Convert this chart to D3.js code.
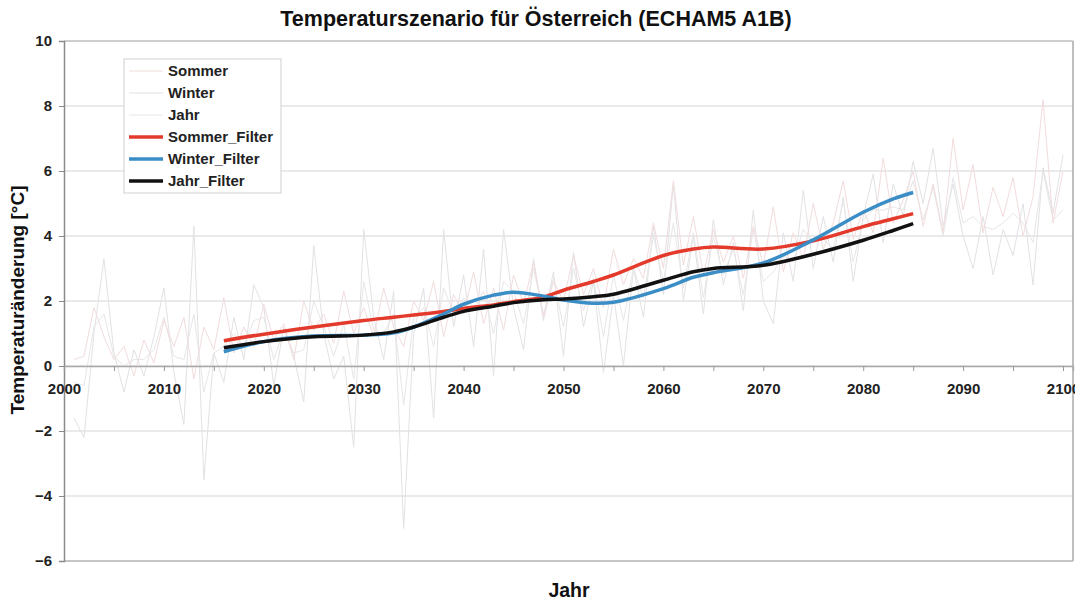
<!DOCTYPE html>
<html>
<head>
<meta charset="utf-8">
<script src="https://cdn.jsdelivr.net/npm/d3@7"></script>
<style>
  body { margin: 0; background: #fff; }
  svg { display: block; font-family: "Liberation Sans", Arial, sans-serif; }
</style>
</head>
<body>
<svg id="chart" width="1075" height="601"></svg>
<script>
// annual series 2001..2100
const startYear = 2001;
const sommer = [0.2, 0.3, 1.8, 0.9, 0.2, 0.6, -0.3, 0.8, 0.1, 1.4, 0.6, 1.5, -0.4, 1.2, 0.5, 2.1, 0.4, 1.2, 0.6, 1.9,
  0.8, 1.3, 0.2, 2.0, 1.1, 1.6, 0.7, 2.3, 1.0, 1.8, 0.9, 2.4, 1.2, 0.6, 2.0, 1.4, 2.6, 0.9, 2.2, 1.6,
  2.9, 1.3, 2.4, 1.1, 2.8, 1.9, 3.2, 1.5, 2.6, 2.0, 3.4, 2.2, 3.0, 1.8, 3.6, 2.5, 3.3, 2.7, 4.4, 3.0,
  5.7, 3.1, 4.6, 2.8, 4.2, 3.2, 4.0, 2.7, 4.3, 3.1, 4.9, 2.9, 4.1, 3.3, 5.0, 3.6, 4.4, 5.7, 3.9, 4.8,
  4.1, 6.4, 4.4, 5.1, 6.0, 4.3, 5.6, 4.1, 7.0, 4.8, 6.2, 4.1, 5.5, 4.6, 5.8, 4.0, 5.2, 8.2, 4.4, 6.0];
const winter = [-1.6, -2.2, 1.0, 3.3, 0.4, -0.8, 0.5, -0.3, 0.9, 2.4, -0.2, -1.8, 4.3, -3.5, 0.4, -0.5, 1.5, 0.2, 2.5, 1.8,
  -0.6, 1.2, 0.3, -1.1, 3.7, 1.0, -0.4, 0.3, -2.5, 4.2, 1.5, 0.2, 2.3, -5.0, 1.0, 2.4, -1.6, 4.2, 1.2, 2.8,
  0.6, 3.6, -0.3, 4.2, 1.8, 0.5, 3.3, 1.4, 2.9, 0.3, 3.5, 1.2, 2.6, -0.2, 2.2, 0.0, 3.0, 1.5, 4.3, 2.2,
  5.6, 2.0, 4.0, 1.6, 4.5, 2.5, 3.8, 1.7, 4.8, 2.0, 1.3, 4.1, 2.6, 5.4, 3.0, 4.6, 3.2, 5.2, 2.6, 4.6,
  5.9, 3.8, 5.6, 4.6, 6.3, 5.0, 6.7, 4.3, 5.6, 4.0, 3.0, 4.6, 2.8, 4.2, 3.4, 5.0, 2.5, 6.1, 4.7, 6.5];
const jahr = [-0.5, -0.6, 1.2, 1.6, 0.3, 0.0, 0.2, 0.2, 0.5, 1.5, 0.3, 0.2, 1.6, -0.8, 0.4, 0.6, 1.0, 0.6, 1.4, 1.5,
  0.2, 1.1, 0.4, 0.5, 2.0, 1.2, 0.3, 1.3, -0.4, 2.6, 1.1, 1.0, 1.6, -1.2, 1.5, 1.8, 0.6, 2.4, 1.6, 2.1,
  1.8, 2.3, 1.0, 2.6, 2.3, 1.3, 3.0, 1.6, 2.7, 1.2, 3.0, 1.7, 2.7, 0.9, 2.8, 1.4, 3.0, 2.1, 4.0, 2.6,
  4.4, 2.4, 4.1, 2.1, 4.0, 2.8, 3.6, 2.2, 4.2, 2.6, 2.9, 3.4, 3.2, 4.2, 3.8, 3.9, 3.6, 5.1, 3.2, 4.5,
  4.8, 4.8, 4.9, 4.8, 5.7, 4.5, 5.5, 4.0, 5.8, 4.4, 4.6, 4.3, 4.2, 4.4, 4.7, 4.4, 3.8, 6.0, 4.5, 4.8];

// filtered curves, sampled years
const filterYears = [2016, 2020, 2025, 2030, 2033, 2035, 2038, 2040, 2043, 2045, 2048, 2050, 2053, 2055, 2060, 2063, 2065, 2070, 2075, 2080, 2083, 2085];
const sommerFilter = [0.78, 0.98, 1.2, 1.4, 1.5, 1.57, 1.68, 1.77, 1.88, 1.98, 2.12, 2.33, 2.6, 2.8, 3.4, 3.6, 3.66, 3.6, 3.85, 4.29, 4.53, 4.69];
const winterFilter = [0.44, 0.75, 0.92, 0.95, 1.02, 1.2, 1.6, 1.9, 2.18, 2.27, 2.15, 2.03, 1.93, 1.96, 2.38, 2.73, 2.87, 3.17, 3.88, 4.73, 5.14, 5.34];
const jahrFilter = [0.56, 0.75, 0.9, 0.95, 1.05, 1.2, 1.5, 1.68, 1.84, 1.95, 2.04, 2.06, 2.13, 2.21, 2.64, 2.9, 3.0, 3.1, 3.44, 3.87, 4.17, 4.38];

const yTicks = [-6, -4, -2, 0, 2, 4, 6, 8, 10];
const xTicks = [2000, 2010, 2020, 2030, 2040, 2050, 2060, 2070, 2080, 2090, 2100];

(function () {
  const svg = d3.select("#chart");
  const m = { left: 64, right: 1073, top: 41, bottom: 561 };
  const font = "Liberation Sans, Arial, sans-serif";

  const x = d3.scaleLinear().domain([2000, 2101]).range([m.left, m.right]);
  const y = d3.scaleLinear().domain([-6, 10]).range([m.bottom, m.top]);

  // grid
  svg.append("g").selectAll("line").data(yTicks).join("line")
    .attr("x1", m.left).attr("x2", m.right)
    .attr("y1", d => y(d)).attr("y2", d => y(d))
    .attr("stroke", "#d6d6d6").attr("stroke-width", 1.2);

  // frame
  svg.append("line").attr("x1", m.right).attr("x2", m.right).attr("y1", m.top).attr("y2", m.bottom)
    .attr("stroke", "#a8a8a8").attr("stroke-width", 1.5);
  svg.append("line").attr("x1", m.left).attr("x2", m.right).attr("y1", m.bottom).attr("y2", m.bottom)
    .attr("stroke", "#b8b8b8").attr("stroke-width", 1.5);
  svg.append("line").attr("x1", m.left).attr("x2", m.right).attr("y1", m.top).attr("y2", m.top)
    .attr("stroke", "#c4c4c4").attr("stroke-width", 1.5);

  // y axis
  const yAxis = svg.append("g").attr("transform", `translate(${m.left},0)`)
    .call(d3.axisLeft(y).tickValues(yTicks).tickSize(5).tickPadding(7));
  yAxis.select(".domain").attr("stroke", "#8a8a8a").attr("stroke-width", 1.5);
  yAxis.selectAll(".tick line").attr("stroke", "#8a8a8a");
  yAxis.selectAll("text").attr("font-size", 15).attr("font-weight", "bold").attr("fill", "#222")
    .attr("font-family", font);

  // noisy annual series
  const line = d3.line().x((d, i) => x(startYear + i)).y(d => y(d));
  [[winter, "#e2e2e6"], [jahr, "#e8e6e6"], [sommer, "#f2dcdc"]].forEach(([s, c]) => {
    svg.append("path").datum(s).attr("d", line)
      .attr("fill", "none").attr("stroke", c).attr("stroke-width", 1);
  });

  // x axis at 0
  const xAxis = svg.append("g").attr("transform", `translate(0,${y(0)})`)
    .call(d3.axisBottom(x).tickValues(d3.range(2000, 2101, 5)).tickSize(5).tickPadding(12)
      .tickFormat(d => xTicks.includes(d) ? d : ""));
  xAxis.select(".domain").attr("stroke", "#a8a8a8").attr("stroke-width", 1.3);
  xAxis.selectAll(".tick line").attr("stroke", "#9a9a9a");
  xAxis.selectAll("text").attr("font-size", 15).attr("font-weight", "bold").attr("fill", "#222")
    .attr("font-family", font);

  // filtered curves
  const fline = d3.line().x((d, i) => x(filterYears[i])).y(d => y(d)).curve(d3.curveCatmullRom);
  const filters = [[sommerFilter, "#e33a2c"], [winterFilter, "#3b8dc6"], [jahrFilter, "#111111"]];
  filters.forEach(([s, c]) => {
    svg.append("path").datum(s).attr("d", fline)
      .attr("fill", "none").attr("stroke", c).attr("stroke-width", 3.5);
  });

  // legend
  const legendItems = [
    ["Sommer", "#f2dcdc", 1], ["Winter", "#e2e2e6", 1], ["Jahr", "#e8e6e6", 1],
    ["Sommer_Filter", "#e33a2c", 3.5], ["Winter_Filter", "#3b8dc6", 3.5], ["Jahr_Filter", "#111111", 3.5]
  ];
  const lg = svg.append("g");
  lg.append("rect").attr("x", 124).attr("y", 59).attr("width", 157).attr("height", 134)
    .attr("fill", "#fff").attr("stroke", "#cfcfcf").attr("stroke-width", 1);
  legendItems.forEach(([name, c, w], i) => {
    const yy = 71 + i * 22;
    lg.append("line").attr("x1", 129).attr("x2", 163).attr("y1", yy).attr("y2", yy)
      .attr("stroke", c).attr("stroke-width", w);
    lg.append("text").attr("x", 168).attr("y", yy).attr("dy", "0.35em")
      .attr("font-size", 15).attr("font-weight", "bold").attr("fill", "#222").text(name);
  });

  // titles
  svg.append("text").attr("x", 536).attr("y", 26).attr("text-anchor", "middle")
    .attr("font-size", 21.5).attr("font-weight", "bold").attr("fill", "#111")
    .text("Temperaturszenario für Österreich (ECHAM5 A1B)");
  svg.append("text").attr("x", 569).attr("y", 597).attr("text-anchor", "middle")
    .attr("font-size", 19.5).attr("font-weight", "bold").attr("fill", "#111").text("Jahr");
  svg.append("text").attr("transform", "translate(24,300) rotate(-90)").attr("text-anchor", "middle")
    .attr("font-size", 19).attr("font-weight", "bold").attr("fill", "#111").text("Temperaturänderung [°C]");
})();
</script>
</body>
</html>
